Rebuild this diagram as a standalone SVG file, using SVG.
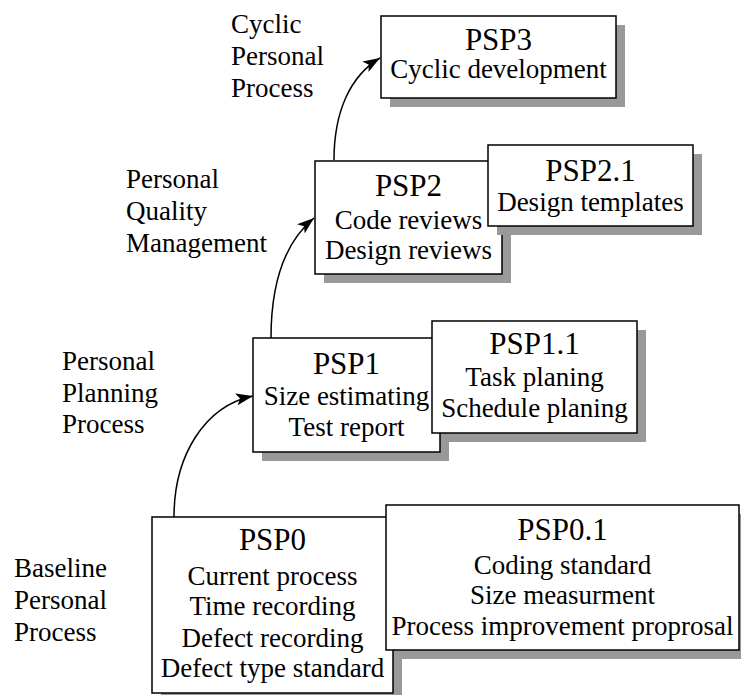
<svg xmlns="http://www.w3.org/2000/svg" width="741" height="695" viewBox="0 0 741 695">
  <style>
    .box { fill: #ffffff; stroke: #000000; stroke-width: 1.5; }
    .shadow { fill: #999999; stroke: none; }
    .title { font-family: 'Liberation Serif', 'Times New Roman', serif; font-size: 31px; fill: #000; text-anchor: middle; }
    .item { font-family: 'Liberation Serif', 'Times New Roman', serif; font-size: 27px; fill: #000; text-anchor: middle; }
    .label { font-family: 'Liberation Serif', 'Times New Roman', serif; font-size: 27px; fill: #000; }
    .link { fill: none; stroke: #000000; stroke-width: 1.5; }
  </style>
  <defs>
    <marker id="arrow" markerUnits="userSpaceOnUse" markerWidth="18" markerHeight="12" refX="17" refY="6" orient="auto">
      <path d="M0,0 L17,6 L0,12 L4,6 Z" fill="#000000"/>
    </marker>
  </defs>

  <rect width="741" height="695" fill="#ffffff"/>

  <!-- stage labels -->
  <g id="stage-labels">
    <text class="label" x="231" y="33">Cyclic</text>
    <text class="label" x="231" y="65">Personal</text>
    <text class="label" x="231" y="97">Process</text>

    <text class="label" x="126" y="188">Personal</text>
    <text class="label" x="126" y="220">Quality</text>
    <text class="label" x="126" y="252">Management</text>

    <text class="label" x="62" y="370">Personal</text>
    <text class="label" x="62" y="402">Planning</text>
    <text class="label" x="62" y="433">Process</text>

    <text class="label" x="14" y="577">Baseline</text>
    <text class="label" x="14" y="609">Personal</text>
    <text class="label" x="14" y="641">Process</text>
  </g>

  <!-- connectors between levels -->
  <g id="connectors">
    <path class="link" d="M174,517 C174,455 205,406 253,396" marker-end="url(#arrow)"/>
    <path class="link" d="M271,338 C271,282 285,242 314,218" marker-end="url(#arrow)"/>
    <path class="link" d="M334,160 C334,112 350,76 380,58" marker-end="url(#arrow)"/>
  </g>

  <g id="psp3">
    <rect class="shadow" x="390" y="25" width="235" height="82"/>
    <rect class="box" x="381" y="16" width="235" height="82"/>
    <text class="title" x="498.5" y="50">PSP3</text>
    <text class="item" x="498.5" y="78">Cyclic development</text>
  </g>

  <g id="psp2">
    <rect class="shadow" x="324" y="170" width="187" height="113"/>
    <rect class="box" x="315" y="161" width="187" height="113"/>
    <text class="title" x="408.5" y="196">PSP2</text>
    <text class="item" x="408.5" y="229">Code reviews</text>
    <text class="item" x="408.5" y="259">Design reviews</text>
  </g>

  <g id="psp2-1">
    <rect class="shadow" x="497" y="154" width="205" height="81"/>
    <rect class="box" x="488" y="145" width="205" height="81"/>
    <text class="title" x="590.5" y="181">PSP2.1</text>
    <text class="item" x="590.5" y="211">Design templates</text>
  </g>

  <g id="psp1">
    <rect class="shadow" x="262" y="347" width="187" height="114"/>
    <rect class="box" x="253" y="338" width="187" height="114"/>
    <text class="title" x="346.5" y="374">PSP1</text>
    <text class="item" x="346.5" y="405">Size estimating</text>
    <text class="item" x="346.5" y="436">Test report</text>
  </g>

  <g id="psp1-1">
    <rect class="shadow" x="441" y="330" width="205" height="112"/>
    <rect class="box" x="432" y="321" width="205" height="112"/>
    <text class="title" x="534.5" y="354">PSP1.1</text>
    <text class="item" x="534.5" y="386">Task planing</text>
    <text class="item" x="534.5" y="417">Schedule planing</text>
  </g>

  <g id="psp0">
    <rect class="shadow" x="161" y="526" width="241" height="176"/>
    <rect class="box" x="152" y="517" width="241" height="176"/>
    <text class="title" x="272.5" y="550">PSP0</text>
    <text class="item" x="272.5" y="585">Current process</text>
    <text class="item" x="272.5" y="615">Time recording</text>
    <text class="item" x="272.5" y="647">Defect recording</text>
    <text class="item" x="272.5" y="677">Defect type standard</text>
  </g>

  <g id="psp0-1">
    <rect class="shadow" x="395" y="514" width="353" height="145"/>
    <rect class="box" x="386" y="505" width="353" height="145"/>
    <text class="title" x="562.5" y="540">PSP0.1</text>
    <text class="item" x="562.5" y="574">Coding standard</text>
    <text class="item" x="562.5" y="604">Size measurment</text>
    <text class="item" x="562.5" y="635">Process improvement proprosal</text>
  </g>
</svg>
